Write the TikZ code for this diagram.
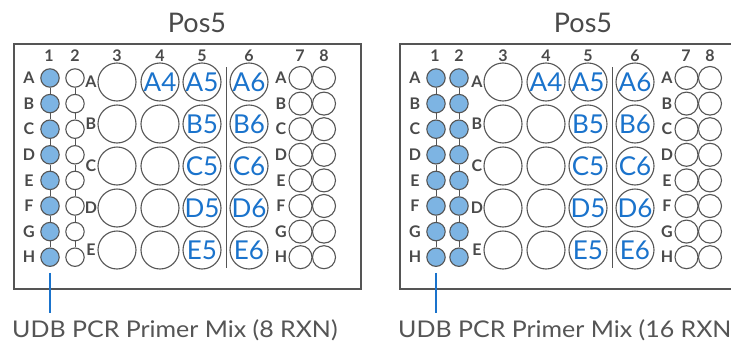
\documentclass[tikz,border=0pt]{standalone}
\usepackage{graphicx}
\usepackage{fontspec}
\setmainfont{Lato}
\definecolor{outl}{HTML}{555555}
\definecolor{txtgrey}{HTML}{4A4A4A}
\definecolor{capgrey}{HTML}{555555}
\definecolor{wellblue}{HTML}{7DB4E3}
\definecolor{labblue}{HTML}{1A73CC}
\tikzset{
  plateframe/.style={draw=outl, line width=1.4pt},
  smallwell/.style={circle, draw=outl, line width=1.1pt, minimum size=18.4pt, inner sep=0pt, fill=white},
  bluewell/.style={smallwell, fill=wellblue},
  tinywell/.style={circle, draw=outl, line width=1.1pt, minimum size=23pt, inner sep=0pt},
  bigwell/.style={circle, draw=outl, line width=1.1pt, minimum size=38pt, inner sep=0pt},
  conn/.style={draw=outl, line width=1pt},
  rowlab/.style={font=\bfseries\fontsize{16}{16}\selectfont, text=txtgrey, inner sep=0pt},
  collab/.style={font=\bfseries\fontsize{16}{16}\selectfont, text=txtgrey, inner sep=0pt},
  welltext/.style={font=\fontsize{26}{26}\selectfont, text=labblue, inner sep=0pt},
  titletext/.style={font=\fontsize{27}{27}\selectfont, text=txtgrey, inner sep=0pt},
  captext/.style={font=\fontsize{23}{23}\selectfont, text=capgrey, inner sep=0pt, anchor=base west},
  leader/.style={draw=labblue, line width=2pt},
  divider/.style={draw=outl, line width=1.2pt}
}
\newcommand\drawplate[5]{%
  % #1 prefix, #2 x shift, #3 col2 style, #4 col2 x, #5 caption
  \begin{scope}[shift={(#2,0)}]
    \draw[plateframe] (14,44) rectangle (361,289);
    \node[titletext] (#1title) at (197,23) {Pos5};
    \foreach \c/\x in {1/49,2/#4,3/117,4/160,5/202,6/249,7/300,8/324}
      \node[collab] (#1head\c) at (\x,56) {\c};
    \foreach \r [count=\i from 0] in {A,B,C,D,E,F,G,H}{
      \node[rowlab] (#1rl\r) at (29,78+25.6*\i) {\r};
      \node[bluewell] (#1c1\r) at (50,78+25.6*\i) {};
      \node[#3] (#1c2\r) at (#4,78+25.6*\i) {};
      \node[rowlab] (#1rr\r) at (281,78+25.6*\i) {\r};
      \node[tinywell] (#1c7\r) at (300.5,78+25.6*\i) {};
      \node[tinywell] (#1c8\r) at (324,78+25.6*\i) {};
    }
    \foreach \a/\b in {A/B,B/C,C/D,D/E,E/F,F/G,G/H}{
      \draw[conn] (#1c1\a) -- (#1c1\b);
      \draw[conn] (#1c2\a) -- (#1c2\b);
    }
    \foreach \r [count=\i from 0] in {A,B,C,D,E}{
      \node[rowlab] (#1bl\r) at (91,82+42*\i) {\r};
      \foreach \c/\x in {3/117,4/160,5/202,6/249}
        \node[bigwell] (#1b\c\r) at (\x,82+42*\i) {};
    }
    \node[welltext] (#1tA4) at (#1b4A.center) {A4};
    \foreach \r in {A,B,C,D,E}{
      \node[welltext] (#1t\r5) at (#1b5\r.center) {\r5};
      \node[welltext] (#1t\r6) at (#1b6\r.center) {\r6};
    }
    \coordinate (#1dtop) at (226.5,67);
    \coordinate (#1dbot) at (226.5,268);
    \draw[divider] (#1dtop) -- (#1dbot);
    \coordinate (#1lend) at (50,313);
    \draw[leader] ([yshift=-6pt]#1c1H.south) -- (#1lend);
    \node[captext] (#1cap) at (12,337) {\scalebox{1.085}[1]{#5}};
  \end{scope}
}
\begin{document}
\begin{tikzpicture}[x=1pt,y=-1pt]
  \useasboundingbox (0,0) rectangle (731,343);
  \clip (0,0) rectangle (731,343);
  \fill[white] (0,0) rectangle (731,343);
  \drawplate{L}{0}{smallwell}{75}{UDB PCR Primer Mix (8 RXN)}
  \drawplate{R}{386}{bluewell}{73}{UDB PCR Primer Mix (16 RXN)}
\end{tikzpicture}
\end{document}
